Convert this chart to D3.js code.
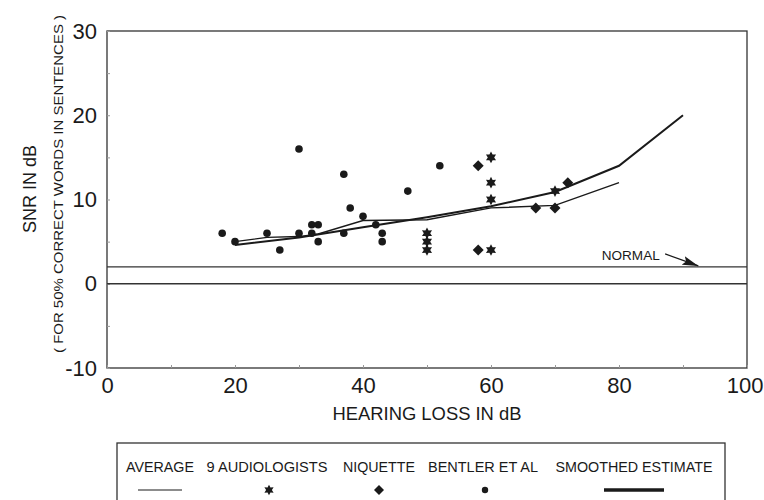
<!DOCTYPE html>
<html>
<head>
<meta charset="utf-8">
<script src="https://cdn.jsdelivr.net/npm/d3@7"></script>
<style>
  html, body { margin: 0; padding: 0; background: #fff; }
  svg { display: block; font-family: "Liberation Sans", Arial, sans-serif; }
</style>
</head>
<body>
<svg id="chart" width="764" height="500"></svg>
<script>
// tick labels
const hearingTicks = [0, 20, 40, 60, 80, 100];
const snrTicks = [-10, 0, 10, 20, 30];

// Bentler et al (dots)
const bentlerLoss = [18, 20, 25, 27, 30, 30, 32, 33, 32, 33, 37, 38, 40, 37, 42, 43, 43, 47, 52];
const bentlerSnr  = [ 6,  5,  6,  4, 16,  6,  7,  7,  6,  5, 13,  9,  8,  6,  7,  6,  5, 11, 14];

// 9 audiologists (stars)
const audioLoss = [50, 50, 50, 60, 60, 60, 60, 70];
const audioSnr  = [ 6,  5,  4, 15, 12, 10,  4, 11];

// Niquette (diamonds)
const niquetteLoss = [58, 58, 67, 70, 72];
const niquetteSnr  = [14,  4,  9,  9, 12];

// average line
const avgLoss = [20, 25, 30, 33, 40, 50, 60, 70, 80];
const avgSnr  = [5.0, 5.5, 5.6, 5.9, 7.5, 7.6, 9.0, 9.3, 12];

// smoothed estimate
const smoothLoss = [20, 30, 40, 50, 60, 70, 80, 90];
const smoothSnr  = [4.6, 5.5, 6.7, 7.9, 9.2, 10.9, 14, 20];

const normalSnr = 2;

const legendLabels = ['AVERAGE', '9 AUDIOLOGISTS', 'NIQUETTE', 'BENTLER ET AL', 'SMOOTHED ESTIMATE'];

const svg = d3.select('#chart');
const ink = '#1a1a1a';

const x = d3.scaleLinear().domain([0, 100]).range([107, 747]);
const y = d3.scaleLinear().domain([-10, 30]).range([368, 31]);

// six point star, like the printed asterisk
const hexStar = {
  draw(ctx, size) {
    const r = Math.sqrt(size) * 0.75;
    const ri = r * 0.55;
    for (let i = 0; i < 12; i++) {
      const a = Math.PI / 6 * i - Math.PI / 2;
      const rr = i % 2 ? ri : r;
      const px = rr * Math.cos(a), py = rr * Math.sin(a);
      if (i === 0) ctx.moveTo(px, py); else ctx.lineTo(px, py);
    }
    ctx.closePath();
  }
};

// square diamond (equal width and height)
const squareDiamond = {
  draw(ctx, size) {
    const r = Math.sqrt(size / 2);
    ctx.moveTo(0, -r);
    ctx.lineTo(r, 0);
    ctx.lineTo(0, r);
    ctx.lineTo(-r, 0);
    ctx.closePath();
  }
};

// frame
svg.append('rect')
  .attr('x', x(0)).attr('y', y(30))
  .attr('width', x(100) - x(0)).attr('height', y(-10) - y(30))
  .attr('fill', 'none').attr('stroke', '#333').attr('stroke-width', 1.3);

// y axis labels
const yAxis = svg.append('g')
  .attr('transform', `translate(${x(0)},0)`)
  .call(d3.axisLeft(y).tickValues(snrTicks).tickSize(0).tickPadding(10).tickFormat(d => String(d)));
yAxis.select('.domain').remove();
yAxis.selectAll('text').attr('font-size', 22).attr('fill', ink)
  .attr('font-family', '"Liberation Sans", Arial, sans-serif');

// x axis labels
const xAxis = svg.append('g')
  .attr('transform', `translate(0,${y(-10)})`)
  .call(d3.axisBottom(x).tickValues(hearingTicks).tickSize(0).tickPadding(9).tickFormat(d => String(d)));
xAxis.select('.domain').remove();
xAxis.selectAll('text').attr('font-size', 22).attr('fill', ink)
  .attr('font-family', '"Liberation Sans", Arial, sans-serif');
// last label sits against the page edge
xAxis.selectAll('text').filter(d => d === 100)
  .attr('text-anchor', 'end').attr('x', 764 - x(100) - 1);

// faint inner ticks
const yIn = svg.append('g')
  .attr('transform', `translate(${x(0)},0)`)
  .call(d3.axisRight(y).tickValues(d3.range(-10, 31, 5)).tickSize(3).tickFormat(''));
yIn.select('.domain').remove();
yIn.selectAll('line').attr('stroke', '#999');
const xIn = svg.append('g')
  .attr('transform', `translate(0,${y(-10)})`)
  .call(d3.axisTop(x).tickValues(d3.range(0, 101, 10)).tickSize(3).tickFormat(''));
xIn.select('.domain').remove();
xIn.selectAll('line').attr('stroke', '#999');

// zero and normal lines
svg.append('line')
  .attr('x1', x(0)).attr('x2', x(100)).attr('y1', y(0)).attr('y2', y(0))
  .attr('stroke', '#333').attr('stroke-width', 1.3);
svg.append('line')
  .attr('x1', x(0)).attr('x2', x(100)).attr('y1', y(normalSnr)).attr('y2', y(normalSnr))
  .attr('stroke', '#333').attr('stroke-width', 1.3);

// normal label and arrow
svg.append('defs').append('marker')
  .attr('id', 'arrow').attr('viewBox', '0 0 16 9')
  .attr('refX', 16).attr('refY', 4.5)
  .attr('markerWidth', 16).attr('markerHeight', 9)
  .attr('markerUnits', 'userSpaceOnUse')
  .attr('orient', 'auto')
  .append('path').attr('d', 'M0,0L16,4.5L0,9L3,4.5Z').attr('fill', ink);
svg.append('text')
  .attr('x', x(77.3)).attr('y', y(normalSnr) - 7)
  .attr('font-size', 13.5).attr('fill', ink)
  .attr('textLength', 58).attr('lengthAdjust', 'spacingAndGlyphs')
  .text('NORMAL');
svg.append('line')
  .attr('x1', x(87.2)).attr('y1', y(normalSnr) - 13)
  .attr('x2', x(92.4)).attr('y2', y(normalSnr) - 1)
  .attr('stroke', ink).attr('stroke-width', 1.2)
  .attr('marker-end', 'url(#arrow)');

// lines
const lineGen = d3.line().x(d => x(d[0])).y(d => y(d[1]));
svg.append('path')
  .datum(d3.zip(avgLoss, avgSnr))
  .attr('d', lineGen)
  .attr('fill', 'none').attr('stroke', ink).attr('stroke-width', 1.4);
svg.append('path')
  .datum(d3.zip(smoothLoss, smoothSnr))
  .attr('d', lineGen)
  .attr('fill', 'none').attr('stroke', ink).attr('stroke-width', 2);

// points
svg.append('g').selectAll('circle')
  .data(d3.zip(bentlerLoss, bentlerSnr))
  .join('circle')
  .attr('cx', d => x(d[0])).attr('cy', d => y(d[1]))
  .attr('r', 3.8).attr('fill', ink);

svg.append('g').selectAll('path')
  .data(d3.zip(niquetteLoss, niquetteSnr))
  .join('path')
  .attr('transform', d => `translate(${x(d[0])},${y(d[1])})`)
  .attr('d', d3.symbol(squareDiamond, 60))
  .attr('fill', ink);

svg.append('g').selectAll('path')
  .data(d3.zip(audioLoss, audioSnr))
  .join('path')
  .attr('transform', d => `translate(${x(d[0])},${y(d[1])})`)
  .attr('d', d3.symbol(hexStar, 60))
  .attr('fill', ink);

// axis titles
svg.append('text')
  .attr('x', 427).attr('y', 420)
  .attr('text-anchor', 'middle')
  .attr('font-size', 18).attr('fill', ink)
  .attr('textLength', 189).attr('lengthAdjust', 'spacingAndGlyphs')
  .text('HEARING LOSS IN dB');
svg.append('text')
  .attr('transform', 'translate(36,189) rotate(-90)')
  .attr('text-anchor', 'middle')
  .attr('font-size', 18).attr('fill', ink)
  .text('SNR IN dB');
svg.append('text')
  .attr('transform', 'translate(63,184) rotate(-90)')
  .attr('text-anchor', 'middle')
  .attr('font-size', 13).attr('fill', ink)
  .attr('textLength', 338).attr('lengthAdjust', 'spacingAndGlyphs')
  .text('( FOR 50% CORRECT WORDS IN SENTENCES )');

// legend
const legendX = [160, 267, 379, 483, 634];
const legendW = [68, 121, 72, 110, 157];
const leg = svg.append('g');
leg.append('rect')
  .attr('x', 117).attr('y', 443).attr('width', 608).attr('height', 80)
  .attr('fill', 'none').attr('stroke', '#333').attr('stroke-width', 1.3);
leg.selectAll('text')
  .data(legendLabels)
  .join('text')
  .attr('x', (d, i) => legendX[i]).attr('y', 472)
  .attr('text-anchor', 'middle')
  .attr('font-size', 14).attr('fill', ink)
  .attr('textLength', (d, i) => legendW[i]).attr('lengthAdjust', 'spacingAndGlyphs')
  .text(d => d);
leg.append('line')
  .attr('x1', legendX[0] - 22).attr('x2', legendX[0] + 22)
  .attr('y1', 490).attr('y2', 490)
  .attr('stroke', ink).attr('stroke-width', 1.2);
leg.append('path')
  .attr('transform', `translate(${legendX[1] + 2},490)`)
  .attr('d', d3.symbol(hexStar, 50)).attr('fill', ink);
leg.append('path')
  .attr('transform', `translate(${legendX[2]},490)`)
  .attr('d', d3.symbol(squareDiamond, 50)).attr('fill', ink);
leg.append('circle')
  .attr('cx', legendX[3] + 2).attr('cy', 490).attr('r', 3.2).attr('fill', ink);
leg.append('line')
  .attr('x1', legendX[4] - 30).attr('x2', legendX[4] + 30)
  .attr('y1', 490).attr('y2', 490)
  .attr('stroke', ink).attr('stroke-width', 3.5);
</script>
</body>
</html>
